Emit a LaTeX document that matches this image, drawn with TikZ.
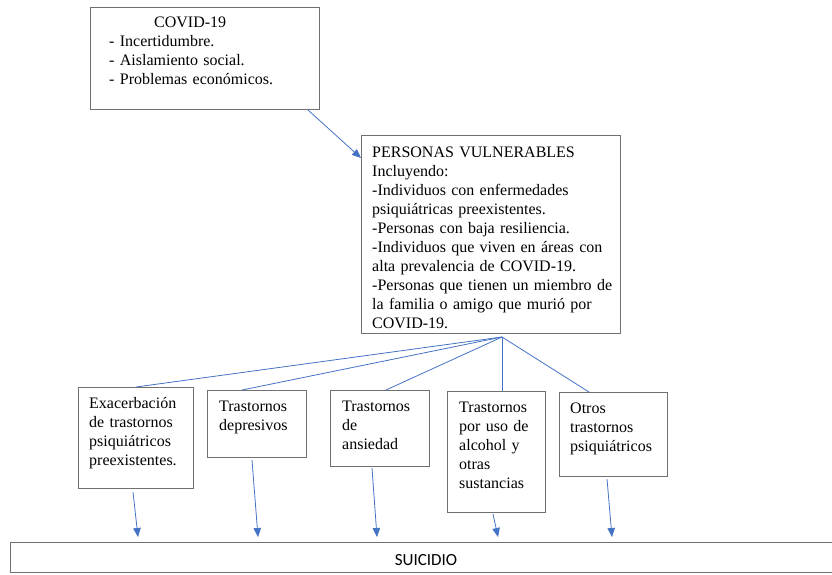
\documentclass[tikz,border=0pt]{standalone}
\usepackage{fontspec}
\setmainfont{Liberation Serif}
\newfontfamily\sufont{Carlito}
\usetikzlibrary{arrows.meta}
\definecolor{conn}{HTML}{4472C4}
\definecolor{boxc}{HTML}{707070}
\begin{document}
\begin{tikzpicture}[x=1pt,y=-1pt,
  boxstyle/.style={draw=boxc,line width=1pt,anchor=north west,inner sep=0pt,outer sep=0pt},
  txt/.style={anchor=base west,inner sep=0pt,align=left,font=\fontsize{16}{19}\selectfont},
  conline/.style={draw=conn,line width=0.8pt},
  arr/.style={conline,-{Triangle[length=9pt,width=7.5pt]}}]
\useasboundingbox (0,0) rectangle (832,574);
% boxes
\node[boxstyle,minimum width=229pt,minimum height=102pt] (covid) at (90,7) {};
\node[boxstyle,minimum width=259pt,minimum height=198pt] (pers) at (361,135) {};
\node[boxstyle,minimum width=115pt,minimum height=101pt] (b1) at (78,387) {};
\node[boxstyle,minimum width=99pt,minimum height=67pt] (b2) at (207,390) {};
\node[boxstyle,minimum width=99pt,minimum height=76pt] (b3) at (330,390) {};
\node[boxstyle,minimum width=98pt,minimum height=121pt] (b4) at (447,391) {};
\node[boxstyle,minimum width=108pt,minimum height=84pt] (b5) at (559,392) {};
\node[boxstyle,minimum width=840pt,minimum height=30pt] (su) at (10,542) {};
% texts
\node[txt,text width=215pt] (covidt) at (109,27) {\hspace*{45pt}COVID-19\\- Incertidumbre.\\- Aislamiento social.\\- Problemas económicos.};
\node[txt,text width=245pt] (perst) at (372,157) {PERSONAS VULNERABLES\\Incluyendo:\\-Individuos con enfermedades\\psiquiátricas preexistentes.\\-Personas con baja resiliencia.\\-Individuos que viven en áreas con\\alta prevalencia de COVID-19.\\-Personas que tienen un miembro de\\la familia o amigo que murió por\\COVID-19.};
\node[txt,text width=104pt] (b1t) at (89,408) {Exacerbación\\de trastornos\\psiquiátricos\\preexistentes.};
\node[txt,text width=86pt] (b2t) at (219,411) {Trastornos\\depresivos};
\node[txt,text width=86pt] (b3t) at (342,411) {Trastornos\\de\\ansiedad};
\node[txt,text width=86pt] (b4t) at (459,412) {Trastornos\\por uso de\\alcohol y\\otras\\sustancias};
\node[txt,text width=96pt] (b5t) at (570,413) {Otros\\trastornos\\psiquiátricos};
\node[inner sep=0pt,font=\sufont\fontsize{17}{20}\selectfont] (sut) at (426,560) {SUICIDIO};
% connectors
\draw[arr] ([xshift=-11pt,yshift=-1pt]covid.south east) -- ([yshift=-23pt]pers.north west);
\coordinate (hub) at ([xshift=141pt,yshift=-4pt]pers.south west);
\draw[conline] (hub) -- ([xshift=58pt]b1.north west);
\draw[conline] (hub) -- ([xshift=35pt]b2.north west);
\draw[conline] (hub) -- ([xshift=56pt]b3.north west);
\draw[conline] (hub) -- ([xshift=55pt]b4.north west);
\draw[conline] (hub) -- ([xshift=30pt]b5.north west);
\draw[arr] ([xshift=55pt,yshift=-4pt]b1.south west) -- ([xshift=128pt,yshift=5pt]su.north west);
\draw[arr] ([xshift=45pt,yshift=-3pt]b2.south west) -- ([xshift=248pt,yshift=5pt]su.north west);
\draw[arr] ([xshift=42pt,yshift=-2pt]b3.south west) -- ([xshift=367pt,yshift=5pt]su.north west);
\draw[arr] ([xshift=46pt,yshift=-2pt]b4.south west) -- ([xshift=488pt,yshift=5pt]su.north west);
\draw[arr] ([xshift=48pt,yshift=-3pt]b5.south west) -- ([xshift=602pt,yshift=5pt]su.north west);
\end{tikzpicture}
\end{document}
